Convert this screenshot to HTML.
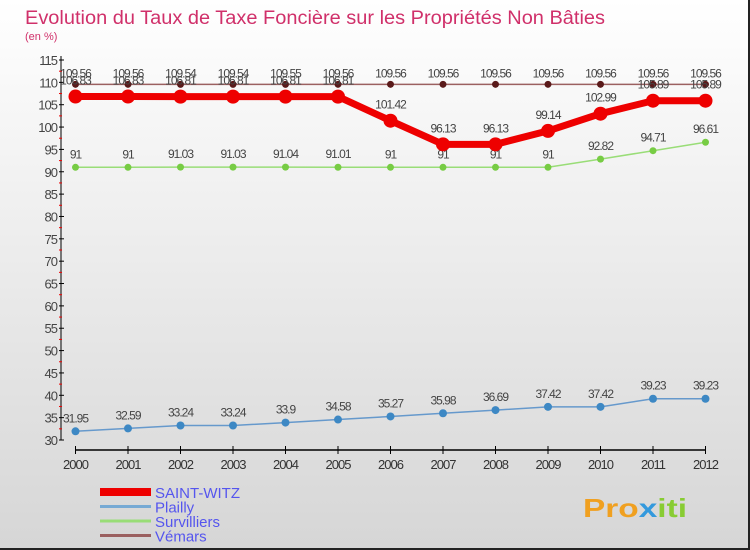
<!DOCTYPE html>
<html><head><meta charset="utf-8"><style>
body{margin:0}
#c{width:750px;height:550px;position:relative;background:linear-gradient(#ffffff,#d6d6d6);font-family:"Liberation Sans",sans-serif;box-sizing:border-box;border-right:2px solid #222;border-bottom:2px solid #222;overflow:hidden}
</style></head><body>
<div id="c">
<svg id="s" width="750" height="550" xmlns="http://www.w3.org/2000/svg"></svg>
</div>
<script>
const years=["2000","2001","2002","2003","2004","2005","2006","2007","2008","2009","2010","2011","2012"];
const saintWitz=[106.83,106.83,106.81,106.81,106.81,106.81,101.42,96.13,96.13,99.14,102.99,105.89,105.89];
const plailly=[31.95,32.59,33.24,33.24,33.9,34.58,35.27,35.98,36.69,37.42,37.42,39.23,39.23];
const survilliers=[91,91,91.03,91.03,91.04,91.01,91,91,91,91,92.82,94.71,96.61];
const vemars=[109.56,109.56,109.54,109.54,109.55,109.56,109.56,109.56,109.56,109.56,109.56,109.56,109.56];
const yTicks=[30,35,40,45,50,55,60,65,70,75,80,85,90,95,100,105,110,115];
const seriesNames=["SAINT-WITZ","Plailly","Survilliers","Vémars"];

const s=document.getElementById('s');
const NS="http://www.w3.org/2000/svg";
function mk(tag,attrs,name,parent){const e=document.createElementNS(NS,tag);for(const k in attrs)e.setAttribute(k,attrs[k]);


(parent||s).appendChild(e);return e;}
function X(i){return 75.5+i*52.5;}
function Y(v){return 440-(v-30)*(380/85);}
function txt(x,y,t,opt,name){const e=mk('text',Object.assign({x:x,y:y,'font-size':12,fill:'#333','font-family':'Liberation Sans, sans-serif'},opt||{}),name);e.textContent=t;return e;}

txt(25,24,"Evolution du Taux de Taxe Foncière sur les Propriétés Non Bâties",{'font-size':19,fill:'#d0306a',textLength:580,lengthAdjust:'spacingAndGlyphs'},'chart-title');
txt(25,40,"(en %)",{'font-size':11,fill:'#d0306a'},'y-axis-unit');

mk('line',{x1:61,y1:56,x2:61,y2:440,stroke:'#000','stroke-width':1},'y-axis-line');
mk('line',{x1:75.5,y1:450,x2:X(12),y2:450,stroke:'#000','stroke-width':1.5},'x-axis-line');
yTicks.forEach(v=>{const y=Y(v);
 mk('line',{x1:59,y1:y,x2:64,y2:y,stroke:'#000'},'y-tick');
 txt(57,y+5,String(v),{'text-anchor':'end','font-size':13,fill:'#444','letter-spacing':'-1'},'y-tick-label');
 if(v<115){mk('line',{x1:59,y1:Y(v+2.5),x2:62,y2:Y(v+2.5),stroke:'#e00'},'y-minor-tick');}
});
years.forEach((yr,i)=>{mk('line',{x1:X(i),y1:446,x2:X(i),y2:454,stroke:'#000'},'x-tick');
 txt(X(i),469,yr,{'text-anchor':'middle','font-size':13,fill:'#333','letter-spacing':'-1'},'x-tick-label');});

function series(data,color,w,r,dotFill,name,labelDy){
 mk('polyline',{points:data.map((v,i)=>X(i)+','+Y(v)).join(' '),fill:'none',stroke:color,'stroke-width':w,'stroke-linejoin':'round'},name+'-line');
 data.forEach((v,i)=>{mk('circle',{cx:X(i),cy:Y(v),r:r,fill:dotFill},name+'-point');
  txt(X(i),Y(v)+labelDy,String(v),{'text-anchor':'middle','font-size':12,fill:'#444','letter-spacing':'-1'},name+'-value-label');});
}
series(vemars,'#9b6060',1.5,3.5,'#5a1a1a','vemars',-7);
series(survilliers,'#99dd77',1.5,3.5,'#77cc44','survilliers',-9);
series(plailly,'#6699cc',1.5,4,'#3d88c4','plailly',-9);
series(saintWitz,'#ee0000',7,7,'#ee0000','saint-witz',-12);

const lc=['#ee0000','#77aad4','#99dd77','#9b6060'],lw=[8,3,3,3];
seriesNames.forEach((n,i)=>{const y=492+i*14.5;
 mk('line',{x1:100,y1:y,x2:151,y2:y,stroke:lc[i],'stroke-width':lw[i]},'legend-swatch');
 txt(155,y+6,n,{'font-size':15,fill:'#5555ee'},'legend-entry');});
const lg=mk('text',{x:583,y:517,'font-size':26,'font-weight':'bold','font-family':'Liberation Sans, sans-serif',textLength:104,lengthAdjust:'spacingAndGlyphs'},'logo');
[['Pro','#f0a020'],['x','#3399dd'],['iti','#88cc33']].forEach(p=>{const t=mk('tspan',{fill:p[1]},'logo-part',lg);t.textContent=p[0];});
</script>
</body></html>
